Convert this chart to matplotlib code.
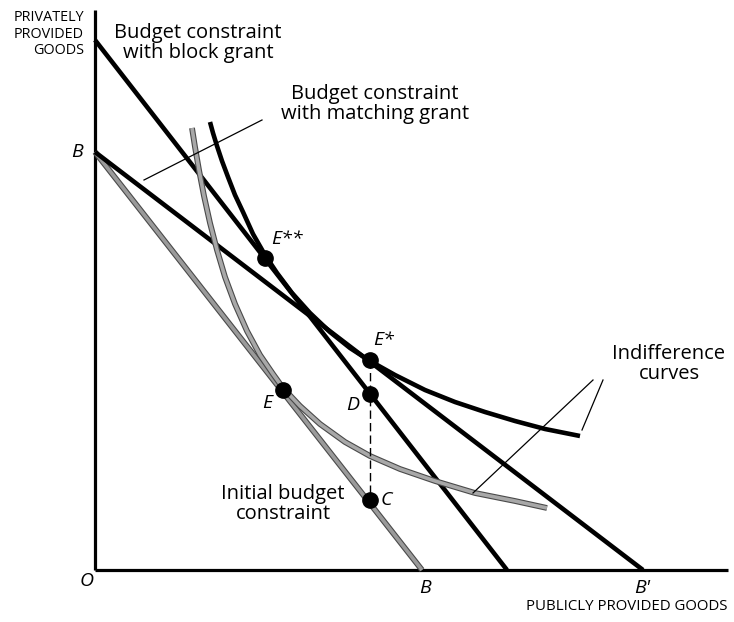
import matplotlib
matplotlib.use("Agg")
import matplotlib.pyplot as plt
import matplotlib.patheffects as pe

plt.rcParams['font.family'] = ['Open Sans', 'DejaVu Sans']

# budget lines: (intercept on private goods axis, intercept on public goods axis)
initial_budget = [418, 327]
block_grant = [530, 412]
matching_grant = [418, 548]

# indifference curve, lower one (tangent at E)
ic1_x = [97, 100, 104, 109, 115, 122, 130, 140, 152, 165, 178, 188, 205, 225,
         250, 275, 305, 340, 380, 420, 452]
ic1_y = [442, 423, 400, 374, 347, 320, 293, 266, 239, 215, 196, 182, 164, 146,
         128, 114, 101, 89, 77, 69, 62]

# indifference curve, higher one (through E** and E*)
ic2_x = [115, 118, 122, 127, 133, 140, 148, 158, 170, 182, 197, 215, 235, 255,
         275, 300, 330, 360, 390, 420, 450, 485]
ic2_y = [448, 437, 424, 409, 393, 375, 358, 336, 315, 297, 277, 257, 238, 222,
         209, 195, 180, 168, 158, 149, 141, 134]

# equilibrium points
pt_x = [188, 170, 275, 275, 275]    # E, E**, E*, D, C
pt_y = [180, 312, 210, 176, 70]

fig = plt.figure(figsize=(7.34, 6.22), dpi=100)
ax = fig.add_axes([0, 0, 1, 1])
ax.set_xlim(-95, 639)
ax.set_ylim(-52, 570)
ax.axis('off')

# axes of the diagram
ax.plot([0, 0], [0, 560], color='black', lw=2.3, solid_capstyle='butt')
ax.plot([0, 633], [0, 0], color='black', lw=2.3, solid_capstyle='butt')

gray_fx = [pe.Stroke(linewidth=4.2, foreground='#4a4a4a'), pe.Normal()]

# budget lines
ax.plot([0, initial_budget[1]], [initial_budget[0], 0], color='#9a9a9a', lw=2.6,
        path_effects=gray_fx, solid_capstyle='butt')
ax.plot([0, block_grant[1]], [block_grant[0], 0], color='black', lw=3.3,
        solid_capstyle='butt')
ax.plot([0, matching_grant[1]], [matching_grant[0], 0], color='black', lw=3.3,
        solid_capstyle='butt')

# indifference curves
ax.plot(ic1_x, ic1_y, color='#a8a8a8', lw=2.6, path_effects=gray_fx,
        solid_capstyle='butt')
ax.plot(ic2_x, ic2_y, color='black', lw=3.3, solid_capstyle='butt')

# dashed line from E* down to C
ax.plot([pt_x[2], pt_x[4]], [pt_y[2], pt_y[4]], color='black', lw=1.0,
        linestyle=(0, (6, 3)))

ax.plot(pt_x, pt_y, 'o', color='black', ms=11, zorder=5)

# leader lines
ax.plot([49, 167], [390, 450], color='black', lw=0.9)
ax.plot([508, 487], [190, 140], color='black', lw=0.9)
ax.plot([498, 378], [190, 77], color='black', lw=0.9)

# text labels
ax.text(-11, 536, "PRIVATELY\nPROVIDED\nGOODS", ha='right', va='center',
        fontsize=10.4, linespacing=1.15)
ax.text(633, -37, "PUBLICLY PROVIDED GOODS", ha='right', va='center', fontsize=10.8)
big = 14.5
ax.text(103, 527, "Budget constraint\nwith block grant", ha='center', va='center',
        fontsize=big, linespacing=1.0)
ax.text(280, 466, "Budget constraint\nwith matching grant", ha='center', va='center',
        fontsize=big, linespacing=1.0)
ax.text(188, 66, "Initial budget\nconstraint", ha='center', va='center',
        fontsize=big, linespacing=1.0)
ax.text(574, 206, "Indifference\ncurves", ha='center', va='center',
        fontsize=big, linespacing=1.0)

ax.text(-18, 418, "B", ha='center', va='center', fontsize=14, style='italic')
ax.text(-8, -11, "O", ha='center', va='center', fontsize=14, style='italic')
ax.text(330, -18, "B", ha='center', va='center', fontsize=14, style='italic')
ax.text(547, -18, "B'", ha='center', va='center', fontsize=14, style='italic')
ax.text(176, 331, "E**", ha='left', va='center', fontsize=14, style='italic')
ax.text(278, 230, "E*", ha='left', va='center', fontsize=14, style='italic')
ax.text(258, 165, "D", ha='center', va='center', fontsize=14, style='italic')
ax.text(172, 167, "E", ha='center', va='center', fontsize=14, style='italic')
ax.text(291, 70, "C", ha='center', va='center', fontsize=14, style='italic')

fig.savefig("out.png", dpi=100)
